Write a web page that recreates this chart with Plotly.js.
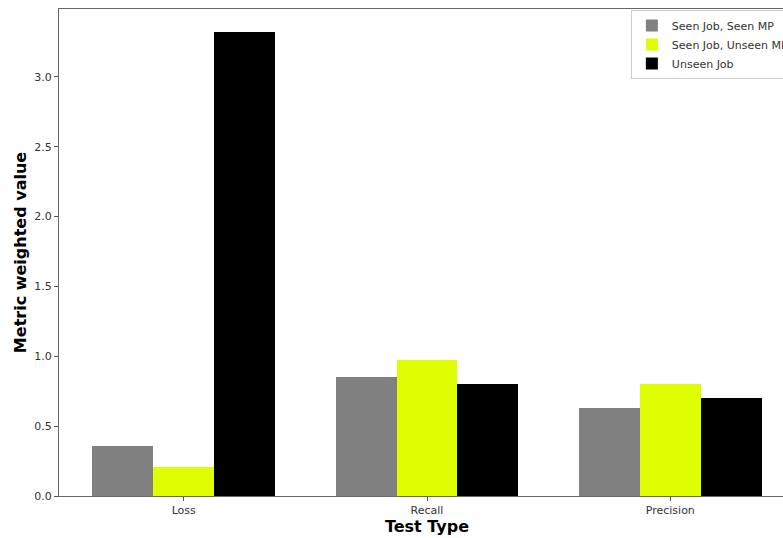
<!DOCTYPE html>
<html>
<head>
<meta charset="utf-8">
<script src="https://cdn.plot.ly/plotly-3.0.1.min.js"></script>
<style>html,body{margin:0;padding:0;overflow:hidden;background:#fff;}#chart{width:797px;height:538px;}</style>
</head>
<body>
<div id="chart"></div>
<script>
const categories = ["Loss", "Recall", "Precision"];
const seriesNames = ["Seen Job, Seen MP", "Seen Job, Unseen MP", "Unseen Job"];
const seenJobSeenMP = [0.36, 0.85, 0.63];
const seenJobUnseenMP = [0.21, 0.975, 0.80];
const unseenJob = [3.32, 0.805, 0.705];
const yTickVals = [0, 0.5, 1.0, 1.5, 2.0, 2.5, 3.0];
const colors = ["#808080", "#dfff00", "#000000"];

const seriesValues = [seenJobSeenMP, seenJobUnseenMP, unseenJob];
const offsets = [-0.25, 0, 0.25];
const idx = categories.map((c, i) => i);
const traces = seriesValues.map((vals, s) => ({
  type: "bar",
  name: seriesNames[s],
  x: idx.map(i => i + offsets[s]),
  y: vals,
  width: 0.25,
  marker: {color: colors[s], line: {width: 0}},
  hoverinfo: "y"
}));

const layout = {
  width: 797, height: 538,
  margin: {l: 59, r: 2, t: 9, b: 42},
  paper_bgcolor: "#fff", plot_bgcolor: "#fff",
  font: {family: "DejaVu Sans", size: 11, color: "#333"},
  showlegend: true,
  legend: {
    x: 0.777, y: 0.998, xanchor: "left", yanchor: "top",
    bordercolor: "#cccccc", borderwidth: 1, bgcolor: "rgba(255,255,255,0.9)",
    font: {family: "DejaVu Sans", size: 11, color: "#333"},
    tracegroupgap: 0, itemwidth: 30
  },
  bargap: 0,
  xaxis: {
    range: [-0.5125, 2.5125],
    tickmode: "array", tickvals: idx, ticktext: categories,
    ticks: "outside", ticklen: 4, tickcolor: "#555",
    showline: true, linecolor: "#666", linewidth: 1, mirror: true,
    showgrid: false, zeroline: false,
    title: {text: "Test Type", font: {family: "DejaVu Sans", size: 16, color: "#000", weight: "bold"}, standoff: 3}
  },
  yaxis: {
    range: [0, 3.486],
    tickmode: "array", tickvals: yTickVals, ticktext: yTickVals.map(v => v.toFixed(1)),
    ticks: "outside", ticklen: 4, tickcolor: "#555",
    showline: true, linecolor: "#666", linewidth: 1, mirror: true,
    showgrid: false, zeroline: false,
    title: {text: "Metric weighted value", font: {family: "DejaVu Sans", size: 16, color: "#000", weight: "bold"}, standoff: 3}
  }
};

Plotly.newPlot("chart", traces, layout, {displayModeBar: false, staticPlot: true});
</script>
</body>
</html>
